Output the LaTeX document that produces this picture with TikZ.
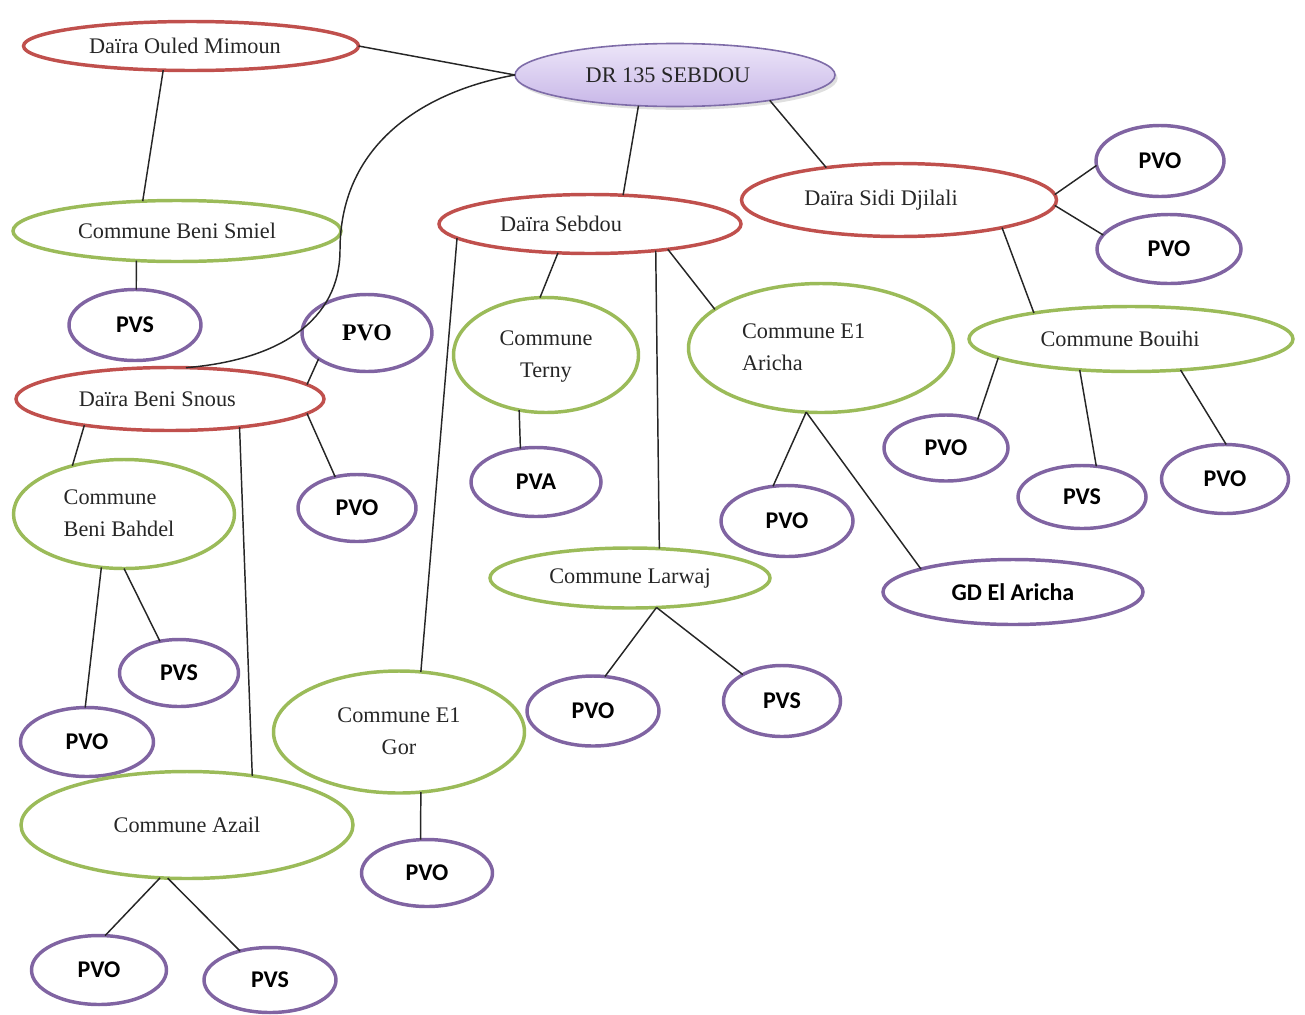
\documentclass[tikz,border=0pt]{standalone}
\usepackage{fontspec}
\setmainfont{Liberation Serif}
\newfontfamily\pvfont{Carlito}
\usetikzlibrary{shapes.geometric,shadows}
\definecolor{dairared}{HTML}{C0504D}
\definecolor{communegreen}{HTML}{9BBB59}
\definecolor{pvpurple}{HTML}{8064A2}
\definecolor{rootedge}{HTML}{7E6CA8}
\definecolor{roottop}{HTML}{ECE5F8}
\definecolor{rootbot}{HTML}{C8B7E8}
\newcommand\tshift[2]{\makebox[0pt]{\hspace*{#1}#2}}
\tikzset{
  sz/.style 2 args={minimum width={(#1-3)*0.75pt}, minimum height={(#2-3)*0.75pt}},
  base/.style={ellipse, inner sep=0pt, outer sep=0pt, line width=2.6pt, text=black!85,
               font=\fontsize{16.7}{24}\selectfont},
  daira/.style={base, draw=dairared},
  commune/.style={base, draw=communegreen},
  pv/.style={base, draw=pvpurple, font=\pvfont\bfseries\fontsize{18}{20}\selectfont, text=black},
  pvserif/.style={base, draw=pvpurple, font=\bfseries\fontsize{17.8}{20}\selectfont, text=black},
  rootnode/.style={base, line width=1.2pt, draw=rootedge, top color=roottop, bottom color=rootbot,
               drop shadow={opacity=0.25, shadow xshift=2pt, shadow yshift=-2.5pt}},
  link/.style={line width=1.1pt, draw=black!85}
}
\begin{document}
\begin{tikzpicture}[x=0.75pt,y=-0.75pt]
\useasboundingbox (0,0) rectangle (1305,1014);
% nodes
\node[rootnode, sz={323}{66}] (dr) at (675,75) {\tshift{-10.5pt}{DR 135 SEBDOU}};
\node[daira, sz={338}{52}] (mimoun) at (191,46) {\tshift{-9pt}{Daïra Ouled Mimoun}};
\node[commune, sz={331}{64}] (smiel) at (177,231) {Commune Beni Smiel};
\node[pv, sz={135}{74}] (pvs1) at (135,325) {PVS};
\node[pvserif, sz={133}{80}] (pvo1) at (367,333) {PVO};
\node[daira, sz={311}{66}] (snous) at (170,399) {\tshift{-19pt}{Daïra Beni Snous}};
\node[daira, sz={305}{62}] (sebdou) at (590,224) {\tshift{-43.5pt}{Daïra Sebdou}};
\node[daira, sz={318}{76}] (sidi) at (899,200) {\tshift{-27pt}{Daïra Sidi Djilali}};
\node[pv, sz={131}{74}] (pvo2) at (1160,161) {PVO};
\node[pv, sz={147}{72}] (pvo3) at (1169,249) {PVO};
\node[commune, sz={188}{118}] (terny) at (546,355) {\begin{tabular}{@{}c@{}}Commune\\Terny\end{tabular}};
\node[commune, sz={268}{132}] (aricha) at (821,348) {\tshift{-26pt}{\begin{tabular}{@{}l@{}}Commune E1\\Aricha\end{tabular}}};
\node[commune, sz={327}{68}] (bouihi) at (1131,339) {\tshift{-16.5pt}{Commune Bouihi}};
\node[pv, sz={127}{69}] (pvo4) at (946,448) {PVO};
\node[pv, sz={131}{66}] (pvs2) at (1082,497) {PVS};
\node[pv, sz={130}{72}] (pvo5) at (1225,479) {PVO};
\node[commune, sz={224}{112}] (bahdel) at (124,514) {\tshift{-7.5pt}{\begin{tabular}{@{}l@{}}Commune\\Beni Bahdel\end{tabular}}};
\node[pv, sz={121}{70}] (pvo6) at (357,508) {PVO};
\node[pv, sz={133}{72}] (pva) at (536,482) {PVA};
\node[commune, sz={283}{63}] (larwaj) at (630,578) {Commune Larwaj};
\node[pv, sz={135}{74}] (pvo7) at (787,521) {PVO};
\node[pv, sz={263}{68}] (gd) at (1013,592) {GD El Aricha};
\node[pv, sz={122}{70}] (pvs3) at (179,673) {PVS};
\node[pv, sz={136}{72}] (pvo8) at (87,742) {PVO};
\node[commune, sz={254}{125}] (elgor) at (399,732) {\begin{tabular}{@{}c@{}}Commune E1\\Gor\end{tabular}};
\node[pv, sz={135}{73}] (pvo9) at (593,711) {PVO};
\node[pv, sz={120}{74}] (pvs4) at (782,701) {PVS};
\node[commune, sz={335}{110}] (azail) at (187,825) {Commune Azail};
\node[pv, sz={134}{70}] (pvo10) at (427,873) {PVO};
\node[pv, sz={138}{72}] (pvo11) at (99,970) {PVO};
\node[pv, sz={135}{68}] (pvs5) at (270,980) {PVS};
% connectors
\coordinate (bend) at (340,250);
\draw[link] (mimoun.0) -- (dr.180);
\draw[link] (mimoun.221) -- (smiel.139);
\draw[link] (smiel.216) -- (pvs1.88);
\draw[link] (dr.180) .. controls (430,90) and (340,140) .. (bend) .. controls (340,320) and (280,360) .. (snous.63);
\draw[link] (dr.220) -- (sebdou.41.5);
\draw[link] (dr.-15) -- (sidi.156.5);
\draw[link] (sidi.2.5) -- (pvo2.184.5);
\draw[link] (sidi.-2) -- (pvo3.168);
\draw[link] (sidi.-15) -- (bouihi.165);
\draw[link] (bouihi.188) -- (pvo4.42.5);
\draw[link] (bouihi.211) -- (pvs2.65.5);
\draw[link] (bouihi.-32) -- (pvo5.88);
\draw[link] (sebdou.222) -- (terny.96);
\draw[link] (sebdou.-22.7) -- (larwaj.45);
\draw[link] (sebdou.-18.6) -- (aricha.160);
\draw[link] (sebdou.186) -- (elgor.70.7);
\draw[link] (terny.244) -- (pva.115);
\draw[link] (aricha.257) -- (pvo7.112);
\draw[link] (aricha.257) -- (gd.166);
\draw[link] (larwaj.-48) -- (pvo9.71.6);
\draw[link] (larwaj.-48) -- (pvs4.146);
\draw[link] (snous.6) -- (pvo1.208);
\draw[link] (snous.-6) -- (pvo6.125);
\draw[link] (snous.197) -- (bahdel.137);
\draw[link] (snous.-22) -- (azail.37.7);
\draw[link] (bahdel.247.6) -- (pvo8.93);
\draw[link] (bahdel.270) -- (pvs3.121);
\draw[link] (elgor.-70.7) -- (pvo10.101);
\draw[link] (azail.243) -- (pvo11.80.5);
\draw[link] (azail.250) -- (pvs5.136);
\end{tikzpicture}
\end{document}
